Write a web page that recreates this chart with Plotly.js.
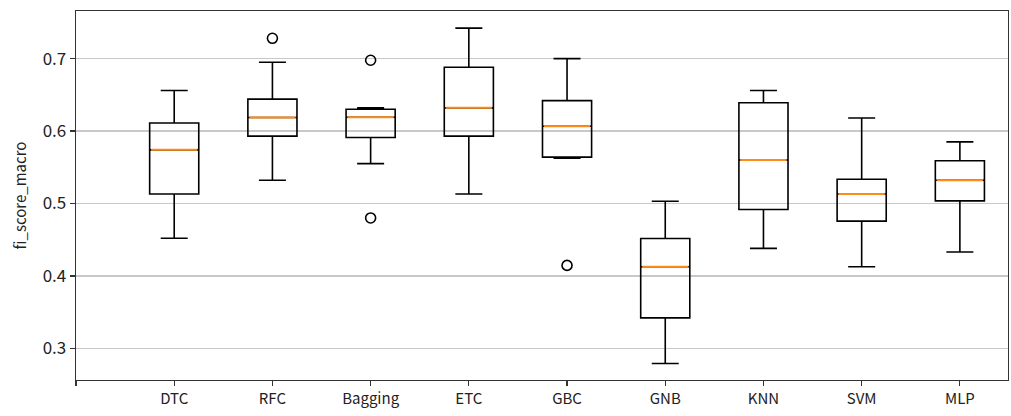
<!DOCTYPE html>
<html>
<head>
<meta charset="utf-8">
<script src="https://cdn.plot.ly/plotly-3.0.1.min.js"></script>
<style>html,body{margin:0;padding:0;background:#fff;}</style>
</head>
<body>
<div id="chart" style="width:1011px;height:416px;"></div>
<script>
const models = ["DTC", "RFC", "Bagging", "ETC", "GBC", "GNB", "KNN", "SVM", "MLP"];
const lowerWhisker = [0.452, 0.532, 0.555, 0.513, 0.5625, 0.279, 0.438, 0.4126, 0.433];
const q1Values     = [0.513, 0.593, 0.591, 0.593, 0.564, 0.342, 0.4917, 0.4756, 0.5036];
const medianValues = [0.574, 0.6186, 0.619, 0.632, 0.6066, 0.4126, 0.560, 0.513, 0.532];
const q3Values     = [0.611, 0.644, 0.630, 0.688, 0.642, 0.4517, 0.639, 0.5335, 0.559];
const upperWhisker = [0.656, 0.695, 0.632, 0.742, 0.700, 0.503, 0.656, 0.618, 0.585];
const outlierModel = ["RFC", "Bagging", "Bagging", "GBC"];
const outlierValue = [0.728, 0.6977, 0.480, 0.4145];
const yTicks = [0.3, 0.4, 0.5, 0.6, 0.7];

const positions = models.map((m, i) => i + 1);
const outlierPos = outlierModel.map(m => models.indexOf(m) + 1);
const FONT = '"Noto Sans CJK KR", "Noto Sans", sans-serif';

const boxTrace = {
  type: 'box',
  x: positions,
  q1: q1Values,
  median: medianValues,
  q3: q3Values,
  lowerfence: lowerWhisker,
  upperfence: upperWhisker,
  width: 0.5,
  whiskerwidth: 0.55,
  line: {color: '#000000', width: 1.6},
  fillcolor: 'rgba(0,0,0,0)',
  boxpoints: false,
  hoverinfo: 'skip',
  showlegend: false
};
const medianTrace = {
  type: 'box',
  x: positions,
  q1: medianValues,
  median: medianValues,
  q3: medianValues,
  lowerfence: medianValues,
  upperfence: medianValues,
  width: 0.47,
  whiskerwidth: 0,
  line: {color: '#ff8c1a', width: 2},
  fillcolor: 'rgba(0,0,0,0)',
  boxpoints: false,
  hoverinfo: 'skip',
  showlegend: false
};
const outlierTrace = {
  type: 'scatter',
  mode: 'markers',
  x: outlierPos,
  y: outlierValue,
  marker: {symbol: 'circle-open', size: 10, color: '#000000', line: {width: 1.6, color: '#000000'}},
  hoverinfo: 'skip',
  showlegend: false
};

const layout = {
  width: 1011,
  height: 416,
  margin: {l: 76, r: 3, t: 11, b: 36},
  paper_bgcolor: '#ffffff',
  plot_bgcolor: '#ffffff',
  boxmode: 'overlay',
  showlegend: false,
  font: {family: FONT, size: 15, color: '#222222'},
  xaxis: {
    range: [0, 9.49],
    tickmode: 'array',
    tickvals: [0].concat(positions),
    ticktext: [''].concat(models),
    ticks: 'outside',
    ticklen: 5,
    tickwidth: 1.2,
    tickcolor: '#333333',
    showgrid: false,
    zeroline: false,
    showline: true,
    linecolor: '#333333',
    linewidth: 1.3,
    mirror: true,
    tickfont: {family: FONT, size: 15, color: '#222222'}
  },
  yaxis: {
    range: [0.2563, 0.7657],
    tickmode: 'array',
    tickvals: yTicks,
    ticktext: yTicks.map(v => v.toFixed(1)),
    ticks: 'outside',
    ticklen: 5,
    tickwidth: 1.2,
    tickcolor: '#333333',
    showgrid: true,
    gridcolor: '#c8c8c8',
    gridwidth: 1.2,
    zeroline: false,
    showline: true,
    linecolor: '#333333',
    linewidth: 1.3,
    mirror: true,
    tickfont: {family: FONT, size: 17, color: '#222222'},
    title: {text: 'fi_score_macro', font: {family: FONT, size: 15, color: '#222222'}, standoff: 12}
  }
};

Plotly.newPlot('chart', [boxTrace, medianTrace, outlierTrace], layout, {displayModeBar: false, staticPlot: true});
</script>
</body>
</html>
